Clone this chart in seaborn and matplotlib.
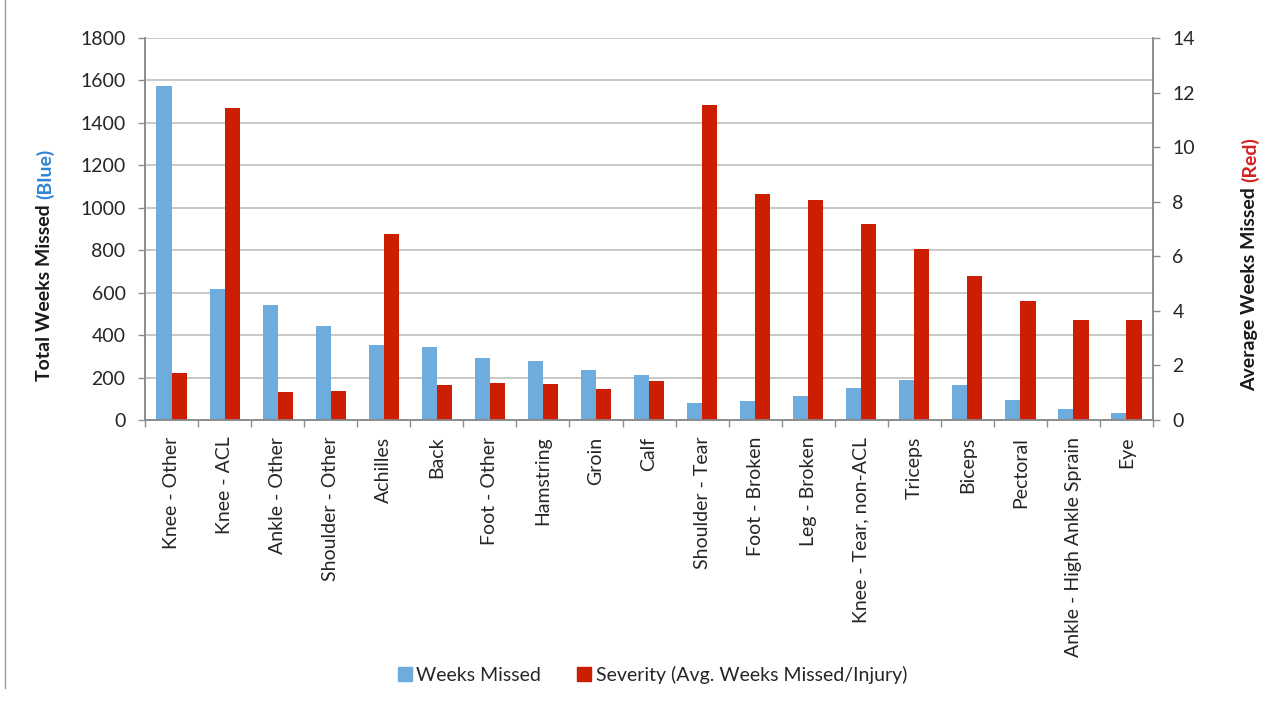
import numpy as np
import pandas as pd
import matplotlib.pyplot as plt
import seaborn as sns
from matplotlib.lines import Line2D

## ---------------- datos ----------------
injuries = ['Knee - Other', 'Knee - ACL', 'Ankle - Other', 'Shoulder - Other', 'Achilles',
            'Back', 'Foot - Other', 'Hamstring', 'Groin', 'Calf', 'Shoulder - Tear',
            'Foot - Broken', 'Leg - Broken', 'Knee - Tear, non-ACL', 'Triceps', 'Biceps',
            'Pectoral', 'Ankle - High Ankle Sprain', 'Eye']
weeks_missed = [1572, 618, 542, 443, 353, 346, 294, 277, 236, 211, 82,
                91, 113, 150, 187, 164, 94, 54, 35]
severity = [1.74, 11.45, 1.03, 1.07, 6.81, 1.29, 1.35, 1.32, 1.13, 1.43, 11.56,
            8.27, 8.06, 7.18, 6.28, 5.28, 4.37, 3.67, 3.67]
series = ['Weeks Missed', 'Severity (Avg. Weeks Missed/Injury)']

blue = '#6dacdd'
red = '#cc1e00'
grid_c = '#c4c4c4'
spine_c = '#8c8c8c'

df_w = pd.DataFrame({'injury': injuries, 'value': weeks_missed, 'serie': series[0]})
df_s = pd.DataFrame({'injury': injuries, 'value': severity, 'serie': series[1]})

## ---------------- figura ----------------
sns.set_theme(style='white')
plt.rcParams['font.family'] = ['Lato', 'DejaVu Sans']
fs = 14

fig = plt.figure(figsize=(12.69, 7.02), dpi=100)
ax = fig.add_axes([0.1143, 0.4017, 0.7943, 0.5442])
ax2 = ax.twinx()

pal = {series[0]: blue, series[1]: red}
sns.barplot(data=df_w, x='injury', y='value', hue='serie', hue_order=series, dodge=True,
            palette=pal, width=0.57, ax=ax, legend=False, saturation=1, order=injuries,
            linewidth=0)
sns.barplot(data=df_s, x='injury', y='value', hue='serie', hue_order=series, dodge=True,
            palette=pal, width=0.57, ax=ax2, legend=False, saturation=1, order=injuries,
            linewidth=0)

ax.set_ylim(0, 1800)
ax2.set_ylim(0, 14)
ax.set_xlim(-0.5, len(injuries) - 0.5)
ax.set_yticks(np.arange(0, 1801, 200))
ax2.set_yticks(np.arange(0, 15, 2))
ax.yaxis.grid(True, color=grid_c, linewidth=1.3)
ax.set_axisbelow(True)
ax2.grid(False)
ax.set_xlabel('')
ax.set_ylabel('')
ax2.set_ylabel('')
ax2.set_xlabel('')

# ticks: etiquetas en el centro, marcas en los limites
ax.set_xticks(range(len(injuries)))
ax.set_xticklabels(injuries, rotation=90, fontsize=fs)
ax.set_xticks(np.arange(-0.5, len(injuries), 1), minor=True)
ax.tick_params(axis='x', which='major', length=0, pad=12)
ax.tick_params(axis='x', which='minor', length=5, color=spine_c, width=1, bottom=True)
ax.tick_params(axis='y', length=5, color=spine_c, width=1, pad=9, labelsize=fs, left=True)
ax2.tick_params(axis='y', length=5, color=spine_c, width=1, pad=9, labelsize=fs, right=True)

for a in (ax, ax2):
    a.spines['top'].set_visible(False)
    for s in ('left', 'right', 'bottom'):
        a.spines[s].set_color(spine_c)
        a.spines[s].set_linewidth(1.2)

## ---------------- etiquetas de ejes en dos colores ----------------
fig.canvas.draw()
rend = fig.canvas.get_renderer()

def two_color_label(x, y0, txt1, txt2, col2):
    t1 = fig.text(x, y0, txt1, rotation=90, ha='center', va='bottom',
                  fontsize=fs, fontweight='bold', color='#1a1a1a')
    bb = t1.get_window_extent(renderer=rend).transformed(fig.transFigure.inverted())
    fig.text(x, bb.y1 + 0.007, txt2, rotation=90, ha='center', va='bottom',
             fontsize=fs, fontweight='bold', color=col2)

two_color_label(45 / 1269, 1 - 381 / 702, 'Total Weeks Missed', '(Blue)', '#2f86d6')
two_color_label(1250 / 1269, 1 - 391 / 702, 'Average Weeks Missed', '(Red)', '#d42020')

## ---------------- leyenda ----------------
handles = [Line2D([], [], marker='s', linestyle='', markersize=10, color=blue),
           Line2D([], [], marker='s', linestyle='', markersize=10, color=red)]
fig.legend(handles, series, loc='center', bbox_to_anchor=(650 / 1269, 1 - 675 / 702),
           ncol=2, frameon=False, fontsize=fs, handletextpad=0.0, handlelength=1.2,
           columnspacing=1.6)

# borde izquierdo de la captura
fig.add_artist(Line2D([5 / 1269, 5 / 1269], [0.02, 1.0], color='#999999', linewidth=1,
                      transform=fig.transFigure))

plt.savefig('out.png', dpi=100)
